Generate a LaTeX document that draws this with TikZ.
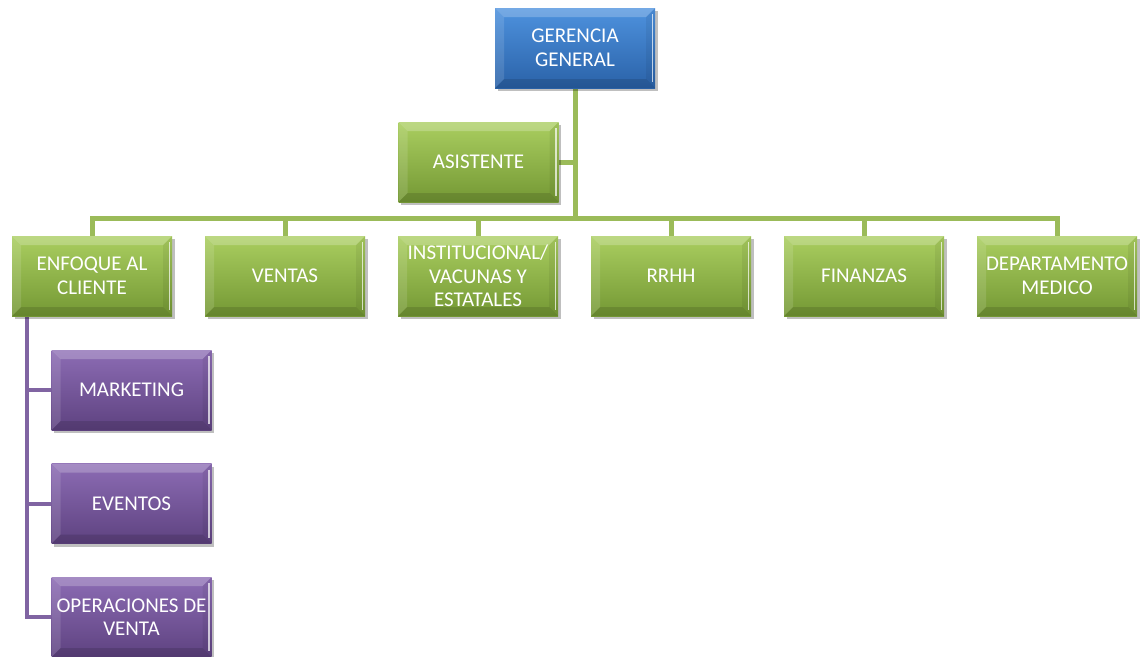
\documentclass[tikz,border=0pt]{standalone}
\usepackage{fontspec}
\setmainfont{Carlito}
\usetikzlibrary{shadows,backgrounds,calc}
\definecolor{gline}{HTML}{9BBB59}
\definecolor{pline}{HTML}{8064A2}
\definecolor{gtop}{RGB}{170,206,96}
\definecolor{gbot}{RGB}{116,152,52}
\definecolor{btop}{RGB}{78,146,222}
\definecolor{bbot}{RGB}{42,98,168}
\definecolor{ptopc}{RGB}{140,108,180}
\definecolor{pbot}{RGB}{94,66,128}
\tikzset{
  bevel/.style={path picture={
    \path (path picture bounding box.south west) coordinate (@sw)
          (path picture bounding box.north east) coordinate (@ne)
          (path picture bounding box.north west) coordinate (@nw)
          (path picture bounding box.south east) coordinate (@se);
    \fill[white,opacity=.22] (@nw) -- (@ne) -- ($(@ne)+(-9pt,-9pt)$) -- ($(@nw)+(9pt,-9pt)$) -- cycle;
    \fill[white,opacity=.12] (@nw) -- (@sw) -- ($(@sw)+(9pt,9pt)$) -- ($(@nw)+(9pt,-9pt)$) -- cycle;
    \fill[black,opacity=.06] (@ne) -- (@se) -- ($(@se)+(-9pt,9pt)$) -- ($(@ne)+(-9pt,-9pt)$) -- cycle;
    \fill[black,opacity=.12] (@sw) -- (@se) -- ($(@se)+(-9pt,9pt)$) -- ($(@sw)+(9pt,9pt)$) -- cycle;
    \draw[white,opacity=.7,line width=1.5pt] ($(@ne)+(-2.5pt,-6pt)$) -- ($(@se)+(-2.5pt,6pt)$);
  }},
  orgbox/.style={minimum width=160pt, minimum height=80pt, inner sep=0pt,
    align=center, text=white, font=\fontsize{21}{23.5}\selectfont,
    drop shadow={shadow xshift=2.5pt,shadow yshift=-3pt,opacity=.25,fill=black},
    bevel},
  greenbox/.style={orgbox, top color=gtop, bottom color=gbot},
  bluebox/.style={orgbox, top color=btop, bottom color=bbot},
  purplebox/.style={orgbox, top color=ptopc, bottom color=pbot},
  gconn/.style={draw=gline, line width=5pt},
  pconn/.style={draw=pline, line width=4pt},
}
\begin{document}
\begin{tikzpicture}[x=1pt,y=-1pt]
\useasboundingbox (0,0) rectangle (1142,656);
\node[bluebox] (ger) at (575,48) {GERENCIA\\GENERAL};
\node[greenbox] (asi) at (478.5,162) {ASISTENTE};
\node[greenbox] (enf) at (92,276) {ENFOQUE AL\\CLIENTE};
\node[greenbox] (ven) at (285,276) {VENTAS};
\node[greenbox] (ins) at (478,276) {INSTITUCIONAL/\\VACUNAS Y\\ESTATALES};
\node[greenbox] (rrhh) at (671,276) {RRHH};
\node[greenbox] (fin) at (864,276) {FINANZAS};
\node[greenbox] (dep) at (1057,276) {DEPARTAMENTO\\MEDICO};
\node[purplebox] (mkt) at (131.5,390) {MARKETING};
\node[purplebox] (eve) at (131.5,503.5) {EVENTOS};
\node[purplebox] (ope) at (131.5,617) {OPERACIONES DE\\VENTA};
\coordinate (bus) at (575,218);
\coordinate (ptop) at (27,316);
\begin{scope}[on background layer]
  \draw[gconn] (ger.south) -- (bus);
  \draw[gconn] (asi.east) -- (asi.east -| bus);
  \foreach \n in {enf,ven,ins,rrhh,fin,dep} \draw[gconn] (\n.north) |- (bus);
  \draw[pconn] (ptop) |- (ope.west);
  \draw[pconn] (mkt.west) -| (ptop);
  \draw[pconn] (eve.west) -| (ptop);
\end{scope}
\end{tikzpicture}
\end{document}
